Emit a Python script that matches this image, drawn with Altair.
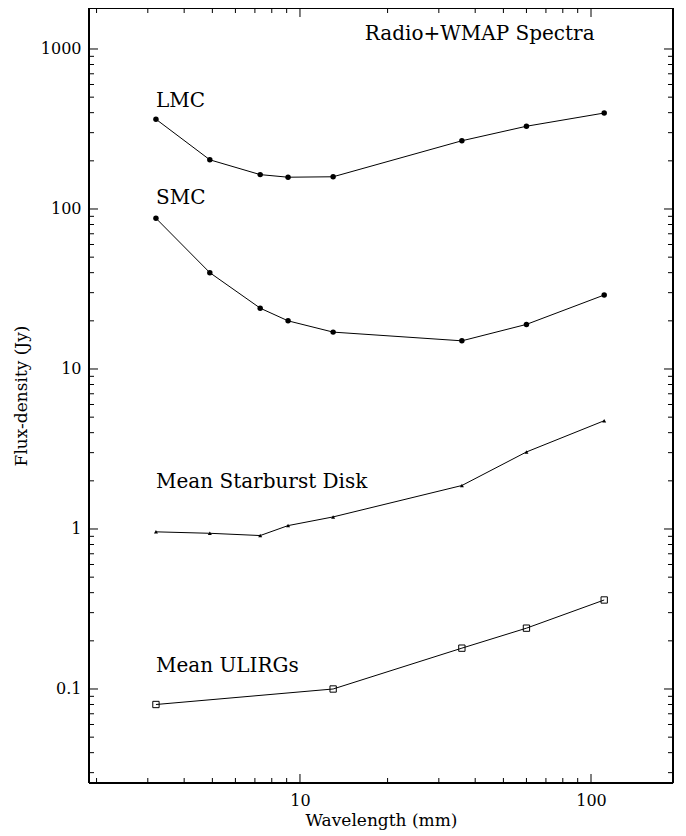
import altair as alt
import pandas as pd

# ---- data ----
wavelength = [3.2, 4.9, 7.3, 9.1, 13, 36, 60, 111]
lmc = [364, 203, 164, 158, 159, 267, 329, 398]
smc = [87.5, 40, 24, 20, 17, 15, 19, 29]
starburst = [0.96, 0.94, 0.91, 1.05, 1.19, 1.87, 3.03, 4.75]
ulirg_wl = [3.2, 13, 36, 60, 111]
ulirg = [0.08, 0.10, 0.18, 0.24, 0.36]

x_major = [10, 100]
x_minor = [2, 3, 4, 5, 6, 7, 8, 9, 20, 30, 40, 50, 60, 70, 80, 90]
y_major = [0.1, 1, 10, 100, 1000]
y_minor = [0.03, 0.04, 0.05, 0.06, 0.07, 0.08, 0.09,
           0.2, 0.3, 0.4, 0.5, 0.6, 0.7, 0.8, 0.9,
           2, 3, 4, 5, 6, 7, 8, 9,
           20, 30, 40, 50, 60, 70, 80, 90,
           200, 300, 400, 500, 600, 700, 800, 900]

label_text = ["LMC", "SMC", "Mean Starburst Disk", "Mean ULIRGs", "Radio+WMAP Spectra"]
label_wl = [3.2, 3.2, 3.2, 3.2, 16.7]
label_flux = [434, 107, 1.80, 0.128, 1138]

W, H = 584, 775
FONT = "DejaVu Serif"

rows = []
for name, vals in [("LMC", lmc), ("SMC", smc), ("Starburst", starburst)]:
    for w, v in zip(wavelength, vals):
        rows.append({"series": name, "wl": w, "flux": v})
for w, v in zip(ulirg_wl, ulirg):
    rows.append({"series": "ULIRG", "wl": w, "flux": v})
df = pd.DataFrame(rows)

xs = alt.Scale(type="log", domain=[1.884, 191.3], nice=False)
ys = alt.Scale(type="log", domain=[0.02585, 1804], nice=False)

x_axis = alt.Axis(values=x_major, format="~g", title="Wavelength (mm)", domain=False,
                  ticks=False, tickSize=0, grid=False, labelFont=FONT, labelFontSize=16,
                  labelPadding=9, labelColor="black", titleFont=FONT, titleFontSize=17,
                  titleFontWeight="normal", titleColor="black", titlePadding=4)
y_axis = alt.Axis(values=y_major, format="~g", title="Flux-density (Jy)", domain=False,
                  ticks=False, tickSize=0, grid=False, labelFont=FONT, labelFontSize=16,
                  labelPadding=8, labelColor="black", titleFont=FONT, titleFontSize=17,
                  titleFontWeight="normal", titleColor="black", titlePadding=10)

X = alt.X("wl:Q", scale=xs, axis=x_axis)
Y = alt.Y("flux:Q", scale=ys, axis=y_axis)

base = alt.Chart(df)
line = base.mark_line(color="black", strokeWidth=1).encode(x=X, y=Y, detail="series:N")
circles = base.transform_filter(alt.FieldOneOfPredicate(field="series", oneOf=["LMC", "SMC"])).mark_point(
    shape="circle", filled=True, size=30, color="black", opacity=1).encode(x=X, y=Y)
tris = base.transform_filter(alt.datum.series == "Starburst").mark_point(
    shape="triangle-up", filled=True, size=16, color="black", opacity=1).encode(x=X, y=Y)
squares = base.transform_filter(alt.datum.series == "ULIRG").mark_point(
    shape="square", filled=False, size=40, color="black", strokeWidth=1, opacity=1).encode(x=X, y=Y)

labels_df = pd.DataFrame({"text": label_text, "wl": label_wl, "flux": label_flux})
labels = alt.Chart(labels_df).mark_text(align="left", baseline="alphabetic", font=FONT,
                                        fontSize=20, color="black").encode(x=X, y=Y, text="text:N")

tick_layers = []
for vals, L in [(x_major, 9), (x_minor, 5)]:
    tdf = pd.DataFrame({"wl": vals})
    c = alt.Chart(tdf).mark_rule(color="black", strokeWidth=1)
    tick_layers.append(c.encode(x=X, y=alt.value(H), y2=alt.value(H - L)))
    tick_layers.append(c.encode(x=X, y=alt.value(0), y2=alt.value(L)))
for vals, L in [(y_major, 9), (y_minor, 5)]:
    tdf = pd.DataFrame({"flux": vals})
    c = alt.Chart(tdf).mark_rule(color="black", strokeWidth=1)
    tick_layers.append(c.encode(y=Y, x=alt.value(0), x2=alt.value(L)))
    tick_layers.append(c.encode(y=Y, x=alt.value(W), x2=alt.value(W - L)))

# frame
one = alt.Chart(pd.DataFrame({"k": [0]}))
fr = one.mark_rule(color="black", strokeWidth=2)
frame = [
    fr.encode(x=alt.value(0), y=alt.value(0), y2=alt.value(H)),
    fr.encode(x=alt.value(W), y=alt.value(0), y2=alt.value(H)),
    fr.encode(y=alt.value(0), x=alt.value(0), x2=alt.value(W)),
    fr.encode(y=alt.value(H), x=alt.value(0), x2=alt.value(W)),
]

chart = alt.layer(line, circles, tris, squares, labels, *tick_layers, *frame).properties(
    width=W, height=H,
    autosize=alt.AutoSizeParams(type="none"),
    padding={"left": 81, "top": 0, "right": 5, "bottom": 53},
).configure_view(strokeWidth=0).configure(background="white")

chart.save("out.html", embed_options={"renderer": "svg", "actions": False})
